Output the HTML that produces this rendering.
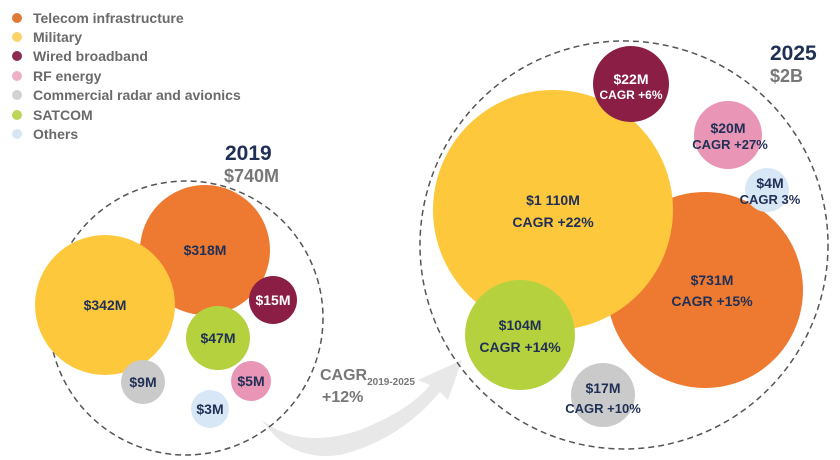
<!DOCTYPE html>
<html><head><style>
body{margin:0;background:#fff;}
svg{display:block}
text{font-family:"Liberation Sans",sans-serif;font-weight:bold}
</style></head><body>
<svg width="840" height="460" viewBox="0 0 840 460">
<g font-size="14" fill="#6a6a6a">
<circle cx="17" cy="18" r="5" fill="#e07a3a"/><text x="33" y="23">Telecom infrastructure</text>
<circle cx="17" cy="37" r="5" fill="#fbd36a"/><text x="33" y="42">Military</text>
<circle cx="17" cy="56" r="5" fill="#8b2d52"/><text x="33" y="61">Wired broadband</text>
<circle cx="17" cy="76" r="5" fill="#eeb0c6"/><text x="33" y="81">RF energy</text>
<circle cx="17" cy="95" r="5" fill="#d2d2d2"/><text x="33" y="100">Commercial radar and avionics</text>
<circle cx="17" cy="115" r="5" fill="#bcd65a"/><text x="33" y="120">SATCOM</text>
<circle cx="17" cy="134" r="5" fill="#d8e6f4"/><text x="33" y="139">Others</text>
</g>
<text x="225" y="160" font-size="21" fill="#1f2f55">2019</text>
<text x="224" y="182" font-size="18" fill="#777">$740M</text>
<text x="770" y="60" font-size="21" fill="#1f2f55">2025</text>
<text x="770" y="82" font-size="18" fill="#777">$2B</text>
<path d="M262 420 Q300 450 360 430 Q410 410 430 385 L418 380 L462 360 L448 400 L440 392 Q400 440 340 455 Q290 462 262 420Z" fill="#e8e8e8"/>
<text x="320" y="380" font-size="16" fill="#777">CAGR<tspan font-size="10" dy="5">2019-2025</tspan></text>
<text x="322" y="402" font-size="16" fill="#777">+12%</text>
<circle cx="186" cy="318" r="137" fill="none" stroke="#555" stroke-width="1.5" stroke-dasharray="6,4"/>
<circle cx="624" cy="245" r="204" fill="none" stroke="#555" stroke-width="1.5" stroke-dasharray="6,4"/>
<g text-anchor="middle" font-size="14" fill="#1f2f55">
<circle cx="205" cy="250" r="65" fill="#ee7a32"/><text x="205" y="255">$318M</text>
<circle cx="105" cy="305" r="70" fill="#fdc83c"/><text x="105" y="310">$342M</text>
<circle cx="273" cy="300" r="24" fill="#8b1e44"/><text x="273" y="305" fill="#fff">$15M</text>
<circle cx="218" cy="338" r="32" fill="#b5d23e"/><text x="218" y="343">$47M</text>
<circle cx="143" cy="382" r="22" fill="#cacaca"/><text x="143" y="387">$9M</text>
<circle cx="251" cy="381" r="20" fill="#e895b6"/><text x="251" y="386">$5M</text>
<circle cx="210" cy="409" r="19" fill="#d7e7f6"/><text x="210" y="414">$3M</text>
<circle cx="705" cy="290" r="98" fill="#ee7a32"/><text x="712" y="285">$731M</text><text x="712" y="306">CAGR +15%</text>
<circle cx="553" cy="210" r="120" fill="#fdc83c"/><text x="553" y="205">$1 110M</text><text x="553" y="227">CAGR +22%</text>
<circle cx="520" cy="335" r="55" fill="#b5d23e"/><text x="520" y="330">$104M</text><text x="520" y="352">CAGR +14%</text>
<circle cx="631" cy="84" r="38" fill="#8b1e44"/><text x="631" y="84" fill="#fff">$22M</text><text x="631" y="99" fill="#fff" font-size="12">CAGR +6%</text>
<circle cx="728" cy="135" r="34" fill="#e895b6"/><text x="728" y="133">$20M</text><text x="730" y="149" font-size="13">CAGR +27%</text>
<circle cx="767" cy="190" r="22" fill="#d7e7f6"/><text x="770" y="188">$4M</text><text x="770" y="204" font-size="13">CAGR 3%</text>
<circle cx="603" cy="395" r="32" fill="#cacaca"/><text x="603" y="393">$17M</text><text x="603" y="413" font-size="13">CAGR +10%</text>
</g>
</svg>
</body></html>
